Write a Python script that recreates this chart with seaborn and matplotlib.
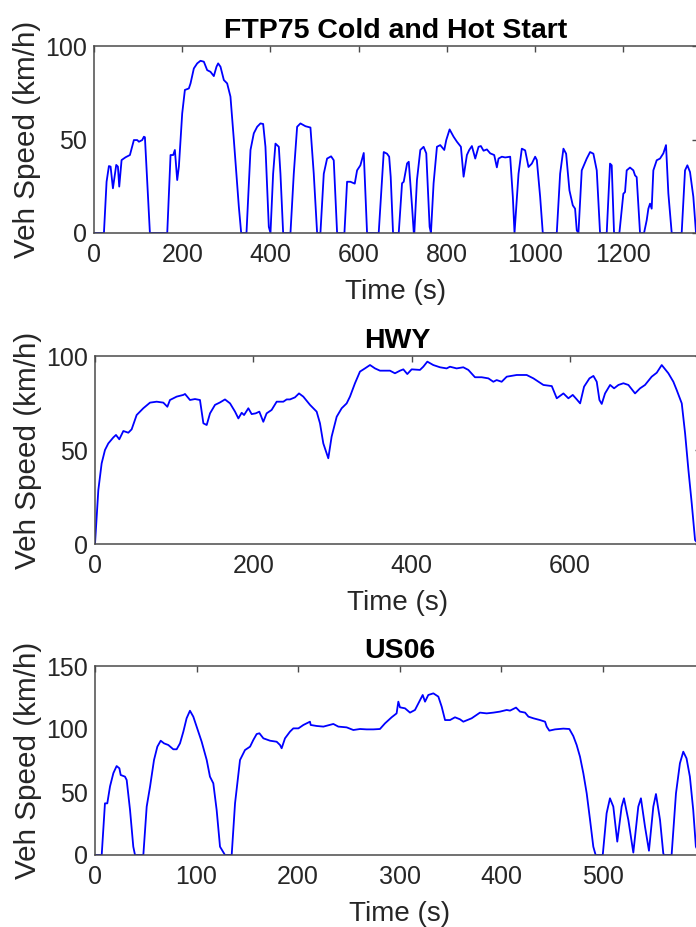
import matplotlib
matplotlib.use("Agg")
import matplotlib.pyplot as plt
import seaborn as sns
import pandas as pd

# FTP75 speed trace (time s, speed km/h)
ftp_time = [0, 22.5, 28.5, 33.8, 37.6, 42.9, 50.4, 54.2, 57.2, 62.5, 71.6, 81.4, 90.4, 98, 101.8,
            109.3, 113.1, 115.4, 126.7, 166, 173.5, 179.5, 183.3, 188.6, 192.4, 199.9, 206, 215,
            218.8, 226.3, 233.9, 241.4, 249, 256.5, 264, 271.6, 277.6, 281.4, 286.7, 294.3, 301.8,
            309.3, 317, 328.3, 333.6, 345.6, 354.7, 362.2, 369.8, 377.3, 383.4, 388.6, 396.2, 400,
            406, 411.3, 418.9, 422.6, 428.7, 445.3, 452.8, 460.4, 467.9, 479.3, 490.6, 498.1, 505.7,
            513.2, 520.8, 528.3, 537.4, 543.4, 551, 567.6, 573.6, 581.2, 591, 596.3, 603.8, 611.4,
            618.9, 645.3, 656.7, 664.2, 669, 672.5, 677.8, 690.7, 698.2, 702, 709.6, 713.4, 720.9,
            724.7, 726, 732, 739.6, 747.1, 753.1, 760.7, 763.7, 769.7, 777.3, 784.8, 793.9, 798.4,
            806, 815, 822.6, 831.6, 837.7, 845.2, 850.5, 856.5, 864.1, 871.6, 876.9, 882.9, 890.5,
            898, 907.1, 913.1, 916.9, 924.4, 932, 943.3, 949.3, 953.1, 962.2, 969.7, 977.2, 984.8,
            992.3, 999.9, 1003.7, 1011.2, 1017.2, 1048.9, 1056.5, 1064, 1070.1, 1077.6, 1085.2,
            1090.4, 1094.2, 1098, 1105.5, 1116.8, 1124.4, 1131.9, 1139.5, 1147, 1162.1, 1169.6,
            1173.4, 1178.7, 1190.8, 1199.8, 1203.6, 1207.4, 1214.9, 1222.5, 1226.3, 1230, 1237.6,
            1246.7, 1252.7, 1256.5, 1260.3, 1264, 1267.8, 1275.4, 1282.9, 1290.5, 1296.5, 1301.8,
            1309.4, 1332, 1339.6, 1344.9, 1350.9, 1358.4, 1364.5, 1369]
ftp_speed = [0, 0, 27.4, 35.8, 35.5, 23.9, 36.4, 35.5, 24.8, 39, 40.5, 41.7, 49.7, 49.7, 48.8,
             49.7, 51.5, 51.2, 0, 0, 41.7, 41.7, 44.4, 28.3, 35.5, 63.9, 76.5, 77.3,
             80, 88, 90.7, 92.1, 91.6, 87.1, 86.2, 83.9, 88.9, 90.7, 88.9, 81.8, 80,
             72.9, 49.7, 14, 0, 0, 44.4, 53.3, 56.8, 58.6, 58.3, 46.1, 3.3, 0,
             31.7, 47.8, 46.1, 31.7, 0, 0, 31.7, 56.8, 58.6, 57.1, 56.4, 31.7, 0,
             0, 31.7, 39.8, 41.0, 38.9, 0, 0, 27.4, 27.4, 26.4, 33.5, 36.2, 42.8,
             0, 0, 43.3, 42.4, 40.8, 30, 0, 0, 26.6, 27.4, 37.2, 38.1, 14,
             0.5, 0, 28.3, 44.4, 46.1, 42.6, 3.3, 0, 26.6, 46.1, 47, 44.4, 49.7,
             55.4, 51.5, 48.8, 46.1, 30.1, 41.7, 44.4, 46.5, 39.8, 46.1, 46.5, 44.0, 44.7,
             42.6, 41.7, 35.1, 39.8, 40.8, 40.4, 40.8, 19.4, 0, 31.7, 45.1, 44.2, 35.3,
             37.1, 40.8, 39, 19.4, 0, 0, 31.7, 45.1, 42.4, 22.8, 14.8,
             13, 1.4, 0, 33.5, 39.8, 43.3, 42.4, 33.5, 0, 0, 37.1,
             36.2, 0, 0, 21, 21.9, 33.5, 35, 33.5, 30.8, 29.9, 0,
             0, 6.8, 13, 15.7, 13, 33.5, 38.9, 39.8, 42.6, 47, 21.2,
             0, 0, 33.5, 36.2, 32.6, 19.4, 0, 0]

# Highway cycle
hwy_time = [0, 4.2, 8.4, 12.6, 16.8, 23.2, 26.5, 30.7, 35.8, 42.1, 46.3, 52.6, 61, 69.5, 77.9,
            86.3, 91.4, 94.7, 103.2, 111.6, 113.7, 120, 126.3, 132.6, 136.9, 141.1, 145.3, 151.6,
            157.9, 164.2, 170.6, 176.9, 181.1, 185.3, 188.3, 193.7, 197.9, 203, 207.6, 212.6,
            216.8, 223.1, 229.5, 237.9, 242.1, 246.3, 252.6, 257.7, 263.1, 271.6, 280, 284.2,
            288.4, 294.7, 298.9, 305.3, 311.6, 317.9, 322.1, 328.4, 334.7, 341, 347.4, 353.7,
            360, 372.6, 378.9, 385.3, 389.5, 394.5, 400, 410.5, 414.7, 419.8, 427.3, 435.8,
            444.2, 448.4, 456.8, 465.2, 471.6, 480, 488.5, 496.9, 503.2, 507.4, 513.7, 520.1,
            532.7, 545.3, 553.8, 566.4, 577, 583.3, 591.7, 598, 603.5, 608.6, 612.8, 617.8,
            624.6, 629.6, 633.8, 637.2, 640.1, 644.3, 650.7, 655.7, 661.2, 667.5, 673.8, 682.2,
            688.5, 694.8, 703.2, 709.6, 715.9, 724.3, 730.6, 734.8, 741.2, 745.4, 749.6, 753.8,
            758, 762]
hwy_speed = [0, 28.7, 42.9, 50, 53.5, 56.7, 58, 55.7, 60.1, 59.2, 61, 68.6, 72.2, 75.2, 75.7,
             75.2, 73, 76.6, 78.4, 79.3, 79.8, 76.6, 77.1, 76.6, 64.2, 63.3, 69.5, 74,
             75.3, 76.9, 74.8, 70.4, 66.8, 69.8, 68.6, 72.2, 69.1, 69.5, 70.4, 65,
             69.5, 71.3, 75.7, 75.7, 76.9, 76.9, 78, 80.1, 78.4, 74, 70.4, 64.2,
             53.5, 45.6, 57.1, 67.7, 72.2, 74.8, 78.4, 85.5, 91.7, 93.4, 95.2, 93.4,
             92.2, 92.2, 90.8, 92.2, 92.9, 90.4, 92.9, 92.6, 94.3, 97, 95.2, 94,
             93.4, 94.3, 93.4, 94, 92.6, 88.7, 88.7, 88.1, 86.3, 87.2, 86.3, 89,
             89.9, 89.9, 88.1, 84.6, 84, 77.5, 80.1, 77.5, 79.3, 76.9, 74.8, 83.7,
             88.1, 89.4, 86.3, 76.6, 74.5, 80.1, 84.6, 82.8, 84.6, 85.5, 84.6, 80.1,
             82.8, 84.6, 89, 91.1, 95.2, 90.8, 86.3, 81.9, 74.8, 58.9, 39.4, 21.6,
             2.1, 0]

# US06 aggressive cycle
us06_time = [0, 6.6, 9.8, 12.1, 14.8, 18.1, 21.3, 24, 25.3, 29.5, 31.2, 34.5, 37.7, 39.4, 47.6,
             50.9, 54.2, 58.1, 61.4, 64.7, 68, 72.2, 77.1, 80.4, 83.7, 87, 90.2, 93.5, 96.8,
             100.1, 105, 110, 113.2, 116.5, 119.8, 123.1, 128, 134.6, 137.9, 142.8, 147.7, 152.7,
             155.9, 159.2, 161.9, 165.8, 172.4, 178.9, 182.2, 183.8, 187.1, 192, 195.3, 200.3,
             205.2, 211.7, 212.4, 218.3, 224.9, 234.7, 239.6, 247.8, 254.4, 261, 267.5, 274.1,
             280.6, 285.6, 292.1, 297, 298.7, 300.3, 305.3, 310.2, 315.1, 320.1, 322.7, 325,
             328.2, 333.2, 338.1, 341.4, 344.7, 349.6, 354.5, 359.4, 362.7, 370.9, 379.1, 385.7,
             392.3, 398.8, 405.4, 408.7, 414.6, 418.5, 423.5, 426.8, 431.7, 438.2, 443.2, 444.8,
             447.4, 453, 461.2, 467.1, 471, 474.3, 477.6, 480.9, 484.2, 487.5, 490.7, 493, 500,
             503.8, 507.1, 510.4, 514.3, 518.6, 520.9, 525.2, 530.1, 535, 537.6, 541.6, 545.5,
             549.8, 552.4, 556.4, 559.6, 560.3, 567.8, 572.1, 576, 579.3, 582.5, 585.8, 589.1,
             591.7, 596]
us06_speed = [0, 0, 41, 41, 54.5, 65, 70.6, 68.8, 63.5, 62.2, 59.5, 35.7, 6.6, 0, 0,
              38.4, 54.2, 75.4, 86, 90.7, 88.6, 87.3, 83.9, 83.9, 88.6, 97.9, 108.5, 114.5, 109.8,
              101.9, 90, 75.4, 62.2, 56.9, 35.7, 6.6, 0, 0, 41, 75.4, 83.3, 86,
              91.3, 96, 96.6, 92.6, 90.7, 89.9, 87.3, 84.7, 92.6, 97.9, 100.5, 100.5,
              103.2, 105.8, 103.2, 102.4, 101.9, 104, 101.9, 101.3, 99.2, 100, 99.7, 99.7,
              100, 104.5, 109.3, 112.4, 121.7, 117.2, 116.4, 113, 115.1, 123, 127, 121.7,
              127, 128.3, 125.7, 117.7, 107.1, 107.1, 109.3, 107.7, 105.8, 108.5, 113, 112.4,
              113, 113.8, 115.1, 114.6, 117, 113.8, 113, 109.8, 108.5, 107.1, 105.8, 101.9,
              98.7, 99.7, 100.3, 100, 94.4, 87.3, 78, 64.8, 48.9, 27.8, 6.6, 0, 0,
              33.1, 45, 38.4, 10.6, 38.4, 45, 27.8, 1.9, 38.4, 45, 22.5, 3.4,
              38.4, 48.4, 27.8, 1.3, 0, 0, 48.9, 72.8, 82, 76.7, 62.2, 35.7,
              6.6, 0]

titles = ["FTP75 Cold and Hot Start", "HWY", "US06"]
x_limits = [1369, 765, 600]
x_ticks = [[0, 200, 400, 600, 800, 1000, 1200], [0, 200, 400, 600], [0, 100, 200, 300, 400, 500]]
y_limits = [100, 100, 150]
y_ticks = [[0, 50, 100], [0, 50, 100], [0, 50, 100, 150]]

sns.set_style("white")
plt.rcParams["font.family"] = ["Liberation Sans", "DejaVu Sans"]

W, H = 696, 927
fig = plt.figure(figsize=(W / 100, H / 100), dpi=100)

# axes boxes in pixels: left, top, right, bottom
boxes = [(94, 46, 698, 233), (95, 356, 700.6, 544), (95, 666, 704.3, 855)]
traces = [(ftp_time, ftp_speed), (hwy_time, hwy_speed), (us06_time, us06_speed)]

axis_color = "#4a4a4a"
text_color = "#262626"

for (l, t, r, b), (tt, vv), title, xl, xt, yl, yt in zip(boxes, traces, titles, x_limits,
                                                         x_ticks, y_limits, y_ticks):
    ax = fig.add_axes([l / W, 1 - b / H, (r - l) / W, (b - t) / H])
    df = pd.DataFrame({"Time (s)": tt, "Veh Speed (km/h)": vv})
    sns.lineplot(data=df, x="Time (s)", y="Veh Speed (km/h)", ax=ax, color="#0000ff",
                 linewidth=1.3, sort=False, estimator=None)
    ax.set_xlim(0, xl)
    ax.set_ylim(0, yl)
    ax.set_xticks(xt)
    ax.set_yticks(yt)
    for s in ax.spines.values():
        s.set_visible(True)
        s.set_color(axis_color)
        s.set_linewidth(1.1)
    ax.tick_params(direction="in", length=4.5, width=1.0, color=axis_color,
                   top=True, right=True, labelsize=18, labelcolor=text_color)
    ax.tick_params(axis="x", pad=7)
    ax.tick_params(axis="y", pad=5)
    ax.set_xlabel("Time (s)", fontsize=20, color=text_color, labelpad=9)
    ax.set_ylabel("Veh Speed (km/h)", fontsize=21.3, color=text_color, labelpad=3)
    ax.set_title(title, fontsize=20.5, fontweight="bold", color="black", pad=6)

fig.savefig("out.png", dpi=100)
